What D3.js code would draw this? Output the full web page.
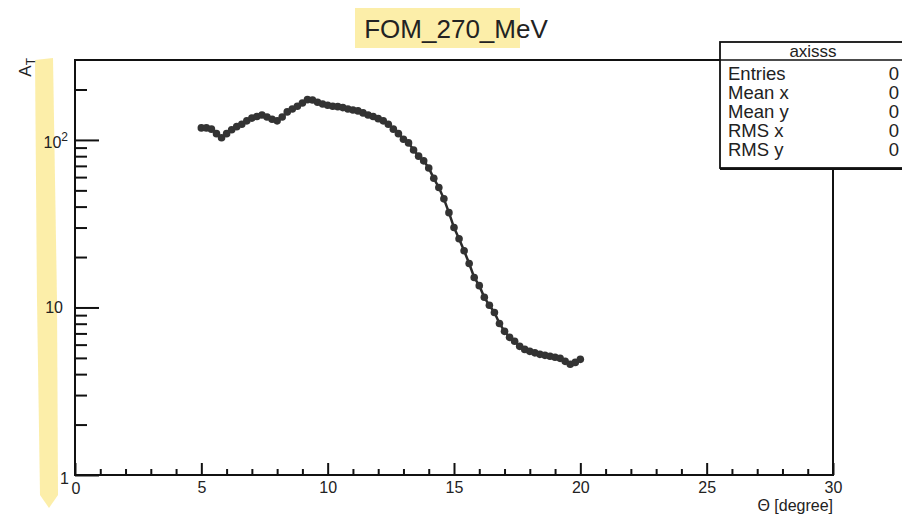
<!DOCTYPE html>
<html><head><meta charset="utf-8">
<script src="https://cdn.jsdelivr.net/npm/d3@7"></script>
<style>
body{margin:0;background:#fff;}
svg{display:block;font-family:"Liberation Sans",Arial,sans-serif;}
</style></head>
<body><svg id="c" width="902" height="516"></svg>
<script>
const title = "FOM_270_MeV";
const theta = [5.0,5.2,5.4,5.6,5.8,6.0,6.2,6.4,6.6,6.8,7.0,7.2,7.4,7.6,7.8,8.0,8.2,8.4,8.6,8.8,
  9.0,9.2,9.4,9.6,9.8,10.0,10.2,10.4,10.6,10.8,11.0,11.2,11.4,11.6,11.8,12.0,12.2,12.4,12.6,12.8,
  13.0,13.2,13.4,13.6,13.8,14.0,14.2,14.4,14.6,14.8,15.0,15.2,15.4,15.6,15.8,16.0,16.2,16.4,16.6,16.8,
  17.0,17.2,17.4,17.6,17.8,18.0,18.2,18.4,18.6,18.8,19.0,19.2,19.4,19.6,19.8,20.0];
const aT = [118,118,116,109,103,109,115,120,124,130,135,138,141,137,133,130,137,147,153,159,
  166,174,173,168,164,161,159,158,156,153,151,149,145,141,138,134,130,124,116,109,
  101,96,87,80,75,68,59,52,44.5,36.8,30,25.7,21.8,18.3,15.1,13.5,11.5,10.3,9.34,8.03,
  7.2,6.63,6.28,5.86,5.62,5.47,5.36,5.25,5.18,5.11,5.04,4.97,4.77,4.58,4.70,4.90];
const xMajorTicks = [0,5,10,15,20,25,30];
const yMajorTicks = [1,10,100];
const yTickLabels = [{base:"1",exp:""},{base:"10",exp:""},{base:"10",exp:"2"}];
const statsTitle = "axisss";
const statsNames = ["Entries","Mean x","Mean y","RMS x","RMS y"];
const statsValues = ["0","0","0","0","0"];

const svg = d3.select("#c");
const L=75,R=833,T=60,B=475;
const x = d3.scaleLinear().domain([0,30]).range([L,R]);
const y = d3.scaleLog().domain([1,300]).range([B,T]);

// highlighter marks
svg.append("rect").attr("x",355).attr("y",8).attr("width",165).attr("height",40)
  .attr("fill","#fbe88c").attr("opacity",0.75);
svg.append("path").attr("d","M35,60 L53,58 L57,300 L58,495 L49,508 L40,495 L37,300 Z")
  .attr("fill","#fbe88c").attr("opacity",0.75);

// title
svg.append("text").attr("x",456).attr("y",38).attr("text-anchor","middle")
  .attr("font-size",26).attr("fill","#222").text(title);

// frame
const g = svg.append("g");
g.append("rect").attr("x",L).attr("y",T).attr("width",R-L).attr("height",B-T)
  .attr("fill","none").attr("stroke","#111").attr("stroke-width",2);

// x axis
const xMinor = x.ticks(30).filter(v=>!xMajorTicks.includes(v));
const xa = g.append("g").attr("transform",`translate(0,${B})`)
  .call(d3.axisBottom(x).tickValues(xMajorTicks).tickSize(-12).tickFormat(d=>d===0?"":d));
xa.select(".domain").remove();
xa.selectAll(".tick line").attr("stroke","#111").attr("stroke-width",2);
xa.selectAll(".tick text").attr("font-size",16).attr("fill","#222").attr("font-family","Liberation Sans, Arial, sans-serif").attr("y",7);
const xm = g.append("g").attr("transform",`translate(0,${B})`)
  .call(d3.axisBottom(x).tickValues(xMinor).tickSize(-6).tickFormat(""));
xm.select(".domain").remove();
xm.selectAll(".tick line").attr("stroke","#111").attr("stroke-width",2);
g.append("text").attr("x",x(0)+1).attr("y",B+19).attr("text-anchor","middle")
  .attr("font-size",16).attr("fill","#222").text("0");

// y axis
const yMinor = y.ticks().filter(v=>!yMajorTicks.includes(v) && v<300);
const ya = g.append("g").attr("transform",`translate(${L},0)`)
  .call(d3.axisLeft(y).tickValues(yMajorTicks).tickSize(-24).tickFormat(""));
ya.select(".domain").remove();
ya.selectAll(".tick line").attr("stroke","#111").attr("stroke-width",2);
const ym = g.append("g").attr("transform",`translate(${L},0)`)
  .call(d3.axisLeft(y).tickValues(yMinor).tickSize(-12).tickFormat(""));
ym.select(".domain").remove();
ym.selectAll(".tick line").attr("stroke","#111").attr("stroke-width",2);

yMajorTicks.forEach((v,i)=>{
  const lab = yTickLabels[i];
  const t = g.append("text").attr("font-size",16).attr("fill","#222").attr("text-anchor","end");
  if(v===1){
    t.attr("x",L-6).attr("y",y(v)+9).text(lab.base);
  } else if(lab.exp){
    t.attr("x",L-7).attr("y",y(v)+8);
    t.append("tspan").text(lab.base);
    t.append("tspan").attr("dy",-7).attr("font-size",12).text(lab.exp);
  } else {
    t.attr("x",L-12).attr("y",y(v)+6).text(lab.base);
  }
});

// axis titles
const yt = svg.append("text").attr("transform","translate(31,58) rotate(-90)")
  .attr("text-anchor","end").attr("font-size",17).attr("fill","#222");
yt.append("tspan").text("A");
yt.append("tspan").attr("dy",4).attr("font-size",12).text("T");
svg.append("text").attr("x",R).attr("y",B+36).attr("text-anchor","end")
  .attr("font-size",16).attr("fill","#222").text("\u0398 [degree]");

// data
const pts = theta.map((t,i)=>[t,aT[i]]);
g.append("path").datum(pts)
  .attr("d",d3.line().x(d=>x(d[0])).y(d=>y(d[1])))
  .attr("fill","none").attr("stroke","#2b2b2b").attr("stroke-width",2.5);
g.selectAll("circle.pt").data(pts).enter().append("circle").attr("class","pt")
  .attr("cx",d=>x(d[0])).attr("cy",d=>y(d[1])).attr("r",3.8).attr("fill","#333");

// stats box
const sb = svg.append("g");
const bx=720, by=42, bw=190, bh=126;
sb.append("rect").attr("x",bx).attr("y",by).attr("width",bw).attr("height",bh)
  .attr("fill","#fff").attr("stroke","#111").attr("stroke-width",1.8);
sb.append("line").attr("x1",bx).attr("x2",bx+bw).attr("y1",by+bh+1).attr("y2",by+bh+1)
  .attr("stroke","#111").attr("stroke-width",2);
sb.append("line").attr("x1",bx).attr("x2",bx+bw).attr("y1",60).attr("y2",60)
  .attr("stroke","#111").attr("stroke-width",1.5);
sb.append("text").attr("x",813).attr("y",57).attr("text-anchor","middle")
  .attr("font-size",17).attr("fill","#222").text(statsTitle);
statsNames.forEach((n,i)=>{
  const yy = 80 + i*19;
  sb.append("text").attr("x",728).attr("y",yy).attr("font-size",18.5).attr("fill","#222").text(n);
  sb.append("text").attr("x",899).attr("y",yy).attr("text-anchor","end").attr("font-size",18.5).attr("fill","#222").text(statsValues[i]);
});
</script></body></html>
